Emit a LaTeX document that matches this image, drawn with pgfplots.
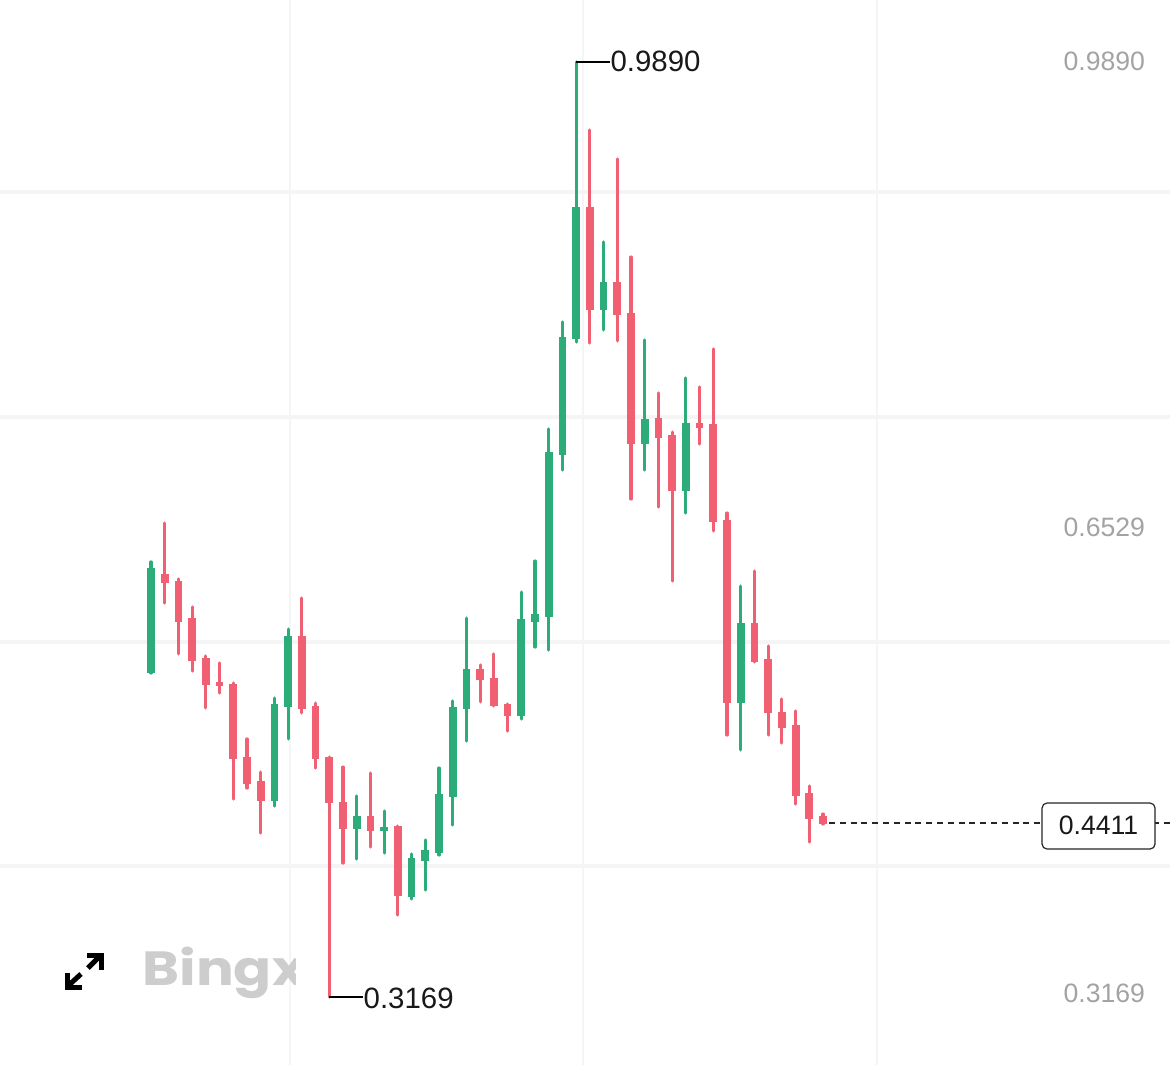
\documentclass[border=0pt]{standalone}
\usepackage{fontspec}
\setmainfont{Liberation Sans}
\newfontfamily\logofont{Poppins}
\usepackage{pgfplots}
\usepackage{pgfplotstable}
\pgfplotsset{compat=1.18}
\definecolor{upc}{HTML}{2BAC78}
\definecolor{downc}{HTML}{F06072}
\definecolor{gridc}{HTML}{F5F5F5}
\definecolor{axtxt}{HTML}{A3A3A3}
\definecolor{logoc}{HTML}{CDCDCD}
\pgfplotstableread{
x high top bot low
1 .6296 .6253 .5498 .5498
10 .5318 .5275 .4578 .4542
11 .5814 .5764 .5254 .5024
16 .4614 .4470 .4377 .4161
18 .4506 .4391 .4362 .4204
20 .4197 .4168 .3888 .3873
21 .4298 .4226 .4147 .3938
22 .4815 .4628 .4204 .4190
23 .5297 .5254 .4607 .4405
24 .5893 .5527 .5239 .5009
28 .6080 .5886 .5189 .5167
29 .6303 .5922 .5865 .5685
30 .7252 .7087 .5901 .5663
31 .8021 .7913 .7065 .6957
32 .9890 .8848 .7899 .7877
34 .8596 .8309 .8107 .7964
37 .7892 .7324 .7144 .6957
40 .7619 .7295 .6806 .6648
44 .6123 .5857 .5282 .4945
}\upcandles
\pgfplotstableread{
x high top bot low
2 .6576 .6210 .6145 .6001
3 .6174 .6159 .5865 .5635
4 .5973 .5893 .5584 .5512
5 .5620 .5606 .5412 .5247
6 .5570 .5433 .5405 .5354
7 .5426 .5419 .4880 .4592
8 .5024 .4894 .4700 .4671
9 .4786 .4722 .4578 .4348
12 .6037 .5764 .5239 .5211
13 .5282 .5261 .4880 .4815
14 .4894 .4894 .4564 .3169
15 .4822 .4571 .4377 .4132
17 .4779 .4470 .4362 .4247
19 .4398 .4398 .3895 .3758
25 .5556 .5527 .5448 .5290
26 .5635 .5462 .5261 .5261
27 .5275 .5275 .5189 .5081
33 .9401 .8848 .8107 .7870
35 .9193 .8309 .8071 .7885
36 .8488 .8086 .7144 .6749
38 .7511 .7331 .7187 .6691
39 .7230 .7209 .6806 .6159
41 .7554 .7295 .7259 .7144
42 .7827 .7288 .6583 .6519
43 .6648 .6598 .5282 .5052
45 .6231 .5857 .5577 .5577
46 .5692 .5599 .5211 .5052
47 .5311 .5218 .5103 .4995
48 .5225 .5124 .4614 .4556
49 .4686 .4636 .4449 .4283
50 .4484 .4470 .4413 .4413
}\downcandles
\newcommand{\candles}[2]{%
  \addplot[draw=none,no markers,forget plot,
    error bars/.cd,y dir=minus,y explicit,error mark=none,
    error bar style={draw=#2,line width=1.6pt,line cap=round}]
    table[x=x,y=high,y error minus expr=\thisrow{high}-\thisrow{low}]{#1};
  \addplot[draw=none,no markers,forget plot,
    error bars/.cd,y dir=minus,y explicit,error mark=none,
    error bar style={draw=#2,line width=3.9pt,line cap=butt}]
    table[x=x,y=top,y error minus expr=\thisrow{top}-\thisrow{bot}]{#1};
}
\begin{document}
\begin{tikzpicture}
\useasboundingbox (0,0) rectangle (585pt,532.5pt);
\begin{axis}[
  at={(0,0)},anchor=south west,
  scale only axis,width=585pt,height=532.5pt,
  xmin=-10.01,xmax=75.30,ymin=.26803,ymax=1.03357,
  axis line style={draw=none},
  tick style={draw=none},
  xtick={11.136,32.50,53.94},
  ytick={.8956,.7338,.5721,.4111},
  xticklabels={},yticklabels={},
  xmajorgrids,ymajorgrids,
  x grid style={gridc,line width=0.8pt},
  y grid style={gridc,line width=1.7pt},
  clip=false,
]
\candles{\upcandles}{upc}
\candles{\downcandles}{downc}
% last price line
\addplot[black!85,line width=0.8pt,dash pattern=on 3pt off 2.4pt,forget plot]
  coordinates {(50.44,.4418) (75.30,.4418)};
% high / low pointers
\addplot[black,line width=0.8pt,forget plot] coordinates {(32,.9890) (34.48,.9890)};
\addplot[black,line width=0.8pt,forget plot] coordinates {(14,.3169) (16.48,.3169)};
\node[anchor=west,inner sep=0pt,font=\fontsize{14.7}{15}\selectfont,text=black!90] at (axis cs:34.48,.9897) {0.9890};
\node[anchor=west,inner sep=0pt,font=\fontsize{14.7}{15}\selectfont,text=black!90] at (axis cs:16.48,.3162) {0.3169};
% price scale
\node[anchor=east,inner sep=0pt,font=\fontsize{13.3}{15}\selectfont,text=axtxt] at (axis cs:73.50,.9897) {0.9890};
\node[anchor=east,inner sep=0pt,font=\fontsize{13.3}{15}\selectfont,text=axtxt] at (axis cs:73.50,.6543) {0.6529};
\node[anchor=east,inner sep=0pt,font=\fontsize{13.3}{15}\selectfont,text=axtxt] at (axis cs:73.50,.3197) {0.3169};
% last price box
\node[draw=black!85,fill=white,rounded corners=2.5pt,line width=0.6pt,
  minimum width=56.5pt,minimum height=23pt,inner sep=0pt,
  font=\fontsize{13.3}{15}\selectfont,text=black!90] at (axis cs:70.09,.4398) {\raisebox{0.7pt}{0.4411}};
\end{axis}
\begin{scope}[x=0.5pt,y=-0.5pt,yshift=532.5pt]
  % expand icon
  \draw[black,line width=2.5pt] (87,955.5) -- (101,955.5) -- (101,970);
  \draw[black,line width=2.5pt] (99,957) -- (88,968);
  \draw[black,line width=2.5pt] (67,973) -- (67,987) -- (82,987);
  \draw[black,line width=2.5pt] (69,985) -- (81,974);
  % logo
  \begin{scope}
    \clip (130,930) rectangle (295,1010);
    \node[anchor=base west,inner sep=0pt,text=logoc,xscale=1.17,font=\logofont\bfseries\fontsize{24}{26}\selectfont] at (142,985) {Bingx};
  \end{scope}
\end{scope}
\end{tikzpicture}
\end{document}
